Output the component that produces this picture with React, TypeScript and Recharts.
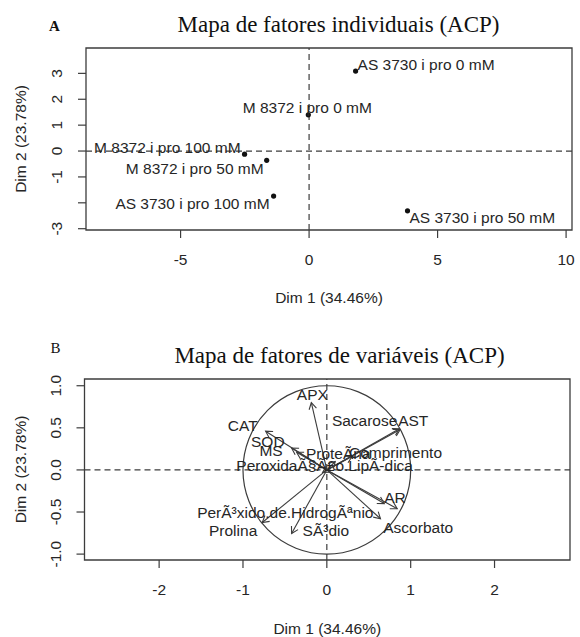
import React from 'react';
import { ScatterChart, Scatter, XAxis, YAxis, ReferenceLine, ReferenceArea } from 'recharts';

// ---------- Panel A data: individuals ----------
const individuals = [
  'AS 3730 i pro 0 mM',
  'M 8372 i pro 0 mM',
  'M 8372 i pro 100 mM',
  'M 8372 i pro 50 mM',
  'AS 3730 i pro 100 mM',
  'AS 3730 i pro 50 mM',
];
const indDim1 = [1.81, -0.03, -2.51, -1.65, -1.38, 3.83];
const indDim2 = [3.09, 1.4, -0.12, -0.36, -1.74, -2.31];

const xTicksA = [-5, 0, 5, 10];
const xTickLabelsA = ['-5', '0', '5', '10'];
const yTicksA = [-3, -2, -1, 0, 1, 2, 3];
const yTickLabelsA = ['-3', '', '-1', '0', '1', '2', '3'];

// ---------- Panel B data: variables ----------
const variables = [
  'APX',
  'CAT',
  'SOD',
  'MS',
  'ProteÃ\u00ADna',
  'PeroxidaÃ§Ã£o.LipÃ-dica',
  'Comprimento',
  'Sacarose',
  'AST',
  'AR',
  'Ascorbato',
  'PerÃ³xido.de.HidrogÃªnio',
  'Prolina',
  'SÃ³dio',
];
const varDim1 = [-0.185, -0.73, -0.42, -0.36, 0.1, -0.05, 0.3, 0.865, 0.875, 0.685, 0.84, 0.64, -0.77, -0.42];
const varDim2 = [0.8, 0.46, 0.26, 0.21, 0.1, -0.03, 0.16, 0.49, 0.48, -0.4, -0.46, -0.58, -0.625, -0.755];

const xTicksB = [-2, -1, 0, 1, 2];
const xTickLabelsB = ['-2', '-1', '0', '1', '2'];
const yTicksB = [-1, -0.5, 0, 0.5, 1];
const yTickLabelsB = ['-1.0', '-0.5', '0.0', '0.5', '1.0'];

const axisTitleX = 'Dim 1 (34.46%)';
const axisTitleY = 'Dim 2 (23.78%)';
const titleA = 'Mapa de fatores individuais (ACP)';
const titleB = 'Mapa de fatores de variáveis (ACP)';

// ---------- styles ----------
const SANS = '"Liberation Sans", Arial, Helvetica, sans-serif';
const SERIF = '"Liberation Serif", "Times New Roman", serif';
const FS = 15.5;
const INK = '#262626';
const LINE = '#3c3c3c';

const xDomainA: [number, number] = [-8.68, 10.23];
const yDomainA: [number, number] = [-3.05, 3.98];
const xDomainB: [number, number] = [-2.89, 2.9];
const yDomainB: [number, number] = [-1.07, 1.08];

type Place = { anchor: 'start' | 'middle' | 'end'; dx: number; dy: number };

const indPlacement: Record<string, Place> = {
  'AS 3730 i pro 0 mM': { anchor: 'start', dx: 2, dy: -7 },
  'M 8372 i pro 0 mM': { anchor: 'middle', dx: -1, dy: -7 },
  'M 8372 i pro 100 mM': { anchor: 'end', dx: -4, dy: -7 },
  'M 8372 i pro 50 mM': { anchor: 'end', dx: -3, dy: 8 },
  'AS 3730 i pro 100 mM': { anchor: 'end', dx: -4, dy: 7 },
  'AS 3730 i pro 50 mM': { anchor: 'start', dx: 2, dy: 7 },
};

const varPlacement: Record<string, Place> = {
  APX: { anchor: 'middle', dx: 1, dy: -8 },
  CAT: { anchor: 'end', dx: -8, dy: -6 },
  SOD: { anchor: 'end', dx: -7, dy: -7 },
  MS: { anchor: 'end', dx: -14, dy: -2 },
  'ProteÃ\u00ADna': { anchor: 'middle', dx: 3, dy: -8 },
  'PeroxidaÃ§Ã£o.LipÃ-dica': { anchor: 'middle', dx: 2, dy: -7 },
  Comprimento: { anchor: 'start', dx: -3, dy: -4 },
  Sacarose: { anchor: 'end', dx: -2, dy: -8 },
  AST: { anchor: 'start', dx: -2, dy: -9 },
  AR: { anchor: 'start', dx: 0, dy: -6 },
  Ascorbato: { anchor: 'start', dx: -14, dy: 19 },
  'PerÃ³xido.de.HidrogÃªnio': { anchor: 'end', dx: -7, dy: -6.5 },
  Prolina: { anchor: 'end', dx: -5, dy: 8 },
  'SÃ³dio': { anchor: 'start', dx: 11, dy: -3 },
};

const dataA = individuals.map((name, i) => ({ name, x: indDim1[i], y: indDim2[i] }));
const dataB = variables.map((name, i) => ({ name, x: varDim1[i], y: varDim2[i] }));

const makeXTick = (ticks: number[], labels: string[]) => (p: any) => {
  const i = ticks.indexOf(p.payload.value);
  return (
    <text x={p.x} y={p.y + 21} textAnchor="middle" dominantBaseline="central" fontFamily={SANS} fontSize={FS} fill={INK}>
      {labels[i]}
    </text>
  );
};

const makeYTick = (ticks: number[], labels: string[]) => (p: any) => {
  const i = ticks.indexOf(p.payload.value);
  const cx = p.x - 21;
  return (
    <text
      x={cx}
      y={p.y}
      transform={`rotate(-90 ${cx} ${p.y})`}
      textAnchor="middle"
      dominantBaseline="central"
      fontFamily={SANS}
      fontSize={FS}
      fill={INK}
    >
      {labels[i]}
    </text>
  );
};

const xTitle = (offset: number) => (lp: any) => {
  const vb = lp.viewBox || {};
  return (
    <text x={vb.x + vb.width / 2} y={vb.y + offset} textAnchor="middle" dominantBaseline="central" fontFamily={SANS} fontSize={FS} fill={INK}>
      {axisTitleX}
    </text>
  );
};

const yTitle = (offset: number) => (lp: any) => {
  const vb = lp.viewBox || {};
  const cx = vb.x + vb.width - offset;
  const cy = vb.y + vb.height / 2;
  return (
    <text x={cx} y={cy} transform={`rotate(-90 ${cx} ${cy})`} textAnchor="middle" dominantBaseline="central" fontFamily={SANS} fontSize={FS} fill={INK}>
      {axisTitleY}
    </text>
  );
};

const IndShape = (p: any) => {
  const { cx, cy, payload } = p;
  const pl = indPlacement[payload.name];
  return (
    <g>
      <circle cx={cx} cy={cy} r={2.6} fill="#111" />
      <text x={cx + pl.dx} y={cy + pl.dy} textAnchor={pl.anchor} dominantBaseline="central" fontFamily={SANS} fontSize={FS} fill={INK}>
        {payload.name}
      </text>
    </g>
  );
};

const VarLabel = (p: any) => {
  const { cx, cy, payload } = p;
  const pl = varPlacement[payload.name];
  return (
    <text x={cx + pl.dx} y={cy + pl.dy} textAnchor={pl.anchor} dominantBaseline="central" fontFamily={SANS} fontSize={FS} fill={INK}>
      {payload.name}
    </text>
  );
};

const ArrowShape = (p: any) => {
  const { x1, y1, x2, y2 } = p;
  if ([x1, y1, x2, y2].some((v) => typeof v !== 'number' || isNaN(v))) return null;
  const ang = Math.atan2(y2 - y1, x2 - x1);
  const L = 7.5;
  const a = Math.PI / 6;
  const hx1 = x2 - L * Math.cos(ang - a);
  const hy1 = y2 - L * Math.sin(ang - a);
  const hx2 = x2 - L * Math.cos(ang + a);
  const hy2 = y2 - L * Math.sin(ang + a);
  return (
    <g>
      <line x1={x1} y1={y1} x2={x2} y2={y2} stroke={LINE} strokeWidth={1.1} />
      <polyline points={`${hx1},${hy1} ${x2},${y2} ${hx2},${hy2}`} fill="none" stroke={LINE} strokeWidth={1.1} />
    </g>
  );
};

const CircleShape = (p: any) => {
  const { x, y, width, height } = p;
  return <ellipse cx={x + width / 2} cy={y + height / 2} rx={Math.abs(width) / 2} ry={Math.abs(height) / 2} fill="none" stroke={LINE} strokeWidth={1.2} />;
};

export default function App() {
  return (
    <div style={{ position: 'absolute', left: 0, top: 0, width: 580, height: 637, background: '#fff', overflow: 'hidden' }}>
      <div style={{ position: 'absolute', left: 0, top: 0 }}>
        <ScatterChart width={580} height={318} margin={{ top: 48, right: 8, bottom: 48, left: 46 }}>
          <XAxis
            type="number"
            dataKey="x"
            domain={xDomainA}
            ticks={xTicksA}
            interval={0}
            allowDataOverflow
            axisLine={false}
            tickLine={{ stroke: LINE, strokeWidth: 1.2 }}
            tickSize={8}
            tickMargin={0}
            height={40}
            tick={makeXTick(xTicksA, xTickLabelsA)}
            label={xTitle(67)}
          />
          <YAxis
            type="number"
            dataKey="y"
            domain={yDomainA}
            ticks={yTicksA}
            interval={0}
            allowDataOverflow
            axisLine={false}
            tickLine={{ stroke: LINE, strokeWidth: 1.2 }}
            tickSize={8}
            tickMargin={0}
            width={40}
            tick={makeYTick(yTicksA, yTickLabelsA)}
            label={yTitle(66)}
          />
          <ReferenceArea x1={xDomainA[0]} x2={xDomainA[1]} y1={yDomainA[0]} y2={yDomainA[1]} fill="none" stroke={LINE} strokeWidth={1.3} />
          <ReferenceLine x={0} stroke={LINE} strokeWidth={1.2} strokeDasharray="6 4" />
          <ReferenceLine y={0} stroke={LINE} strokeWidth={1.2} strokeDasharray="6 4" />
          <Scatter data={dataA} shape={IndShape} isAnimationActive={false} />
        </ScatterChart>
      </div>
      <div style={{ position: 'absolute', left: 0, top: 318 }}>
        <ScatterChart width={580} height={319} margin={{ top: 61, right: 10, bottom: 37, left: 44.5 }}>
          <XAxis
            type="number"
            dataKey="x"
            domain={xDomainB}
            ticks={xTicksB}
            interval={0}
            allowDataOverflow
            axisLine={false}
            tickLine={{ stroke: LINE, strokeWidth: 1.2 }}
            tickSize={8}
            tickMargin={0}
            height={40}
            tick={makeXTick(xTicksB, xTickLabelsB)}
            label={xTitle(68)}
          />
          <YAxis
            type="number"
            dataKey="y"
            domain={yDomainB}
            ticks={yTicksB}
            interval={0}
            allowDataOverflow
            axisLine={false}
            tickLine={{ stroke: LINE, strokeWidth: 1.2 }}
            tickSize={8}
            tickMargin={0}
            width={40}
            tick={makeYTick(yTicksB, yTickLabelsB)}
            label={yTitle(64.5)}
          />
          <ReferenceArea x1={xDomainB[0]} x2={xDomainB[1]} y1={yDomainB[0]} y2={yDomainB[1]} fill="none" stroke={LINE} strokeWidth={1.3} />
          <ReferenceLine x={0} stroke={LINE} strokeWidth={1.2} strokeDasharray="6 4" />
          <ReferenceLine y={0} stroke={LINE} strokeWidth={1.2} strokeDasharray="6 4" />
          <ReferenceArea x1={-1} x2={1} y1={-1} y2={1} shape={CircleShape} />
          {dataB.map((d) => (
            <ReferenceLine
              key={d.name}
              segment={[
                { x: 0, y: 0 },
                { x: d.x, y: d.y },
              ]}
              shape={ArrowShape}
            />
          ))}
          <Scatter data={dataB} shape={VarLabel} isAnimationActive={false} />
        </ScatterChart>
      </div>
      <svg width={580} height={637} style={{ position: 'absolute', left: 0, top: 0, pointerEvents: 'none' }}>
        <text x={54.5} y={31} textAnchor="middle" fontFamily={SERIF} fontWeight="bold" fontSize={15} fill="#111">A</text>
        <text x={338.5} y={32} textAnchor="middle" fontFamily={SERIF} fontSize={23} fill="#111">{titleA}</text>
        <text x={55.5} y={353} textAnchor="middle" fontFamily={SERIF} fontSize={15} fill="#111">B</text>
        <text x={339.5} y={363} textAnchor="middle" fontFamily={SERIF} fontSize={23} fill="#111">{titleB}</text>
      </svg>
    </div>
  );
}
